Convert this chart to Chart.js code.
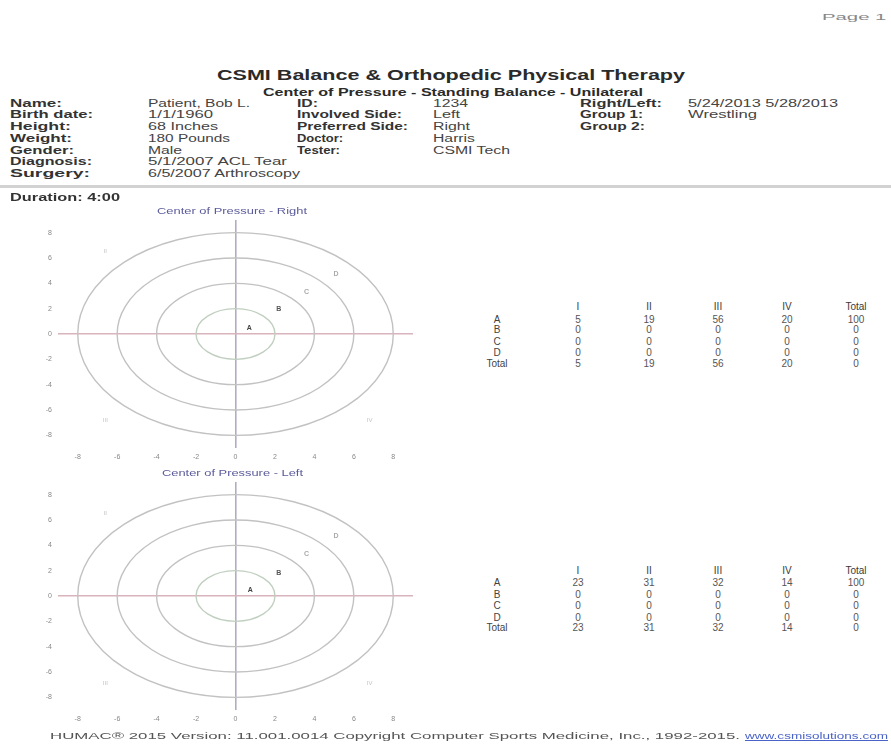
<!DOCTYPE html>
<html>
<head>
<meta charset="utf-8">
<script src="https://cdn.jsdelivr.net/npm/chart.js@4.4.1/dist/chart.umd.min.js"></script>
<style>
html, body { margin: 0; padding: 0; background: #fff; }
body { width: 891px; height: 746px; position: relative; overflow: hidden;
       font-family: "Liberation Sans", Arial, sans-serif; color: #222; }
.t { position: absolute; white-space: nowrap; line-height: 1.1; transform-origin: 0 50%; }
canvas { position: absolute; }
#sep { position: absolute; left: 0; top: 185px; width: 891px; height: 3px; background: #d2d2d2; }
</style>
</head>
<body>
<div id="sep"></div>
<canvas id="chartRight" width="430" height="270" style="left:0;top:200px"></canvas>
<canvas id="chartLeft" width="430" height="270" style="left:0;top:462px"></canvas>

<script>
// axis ticks and target rings (data units)
const tickValues = [-8, -6, -4, -2, 0, 2, 4, 6, 8];
const ringRadii = [2, 4, 6, 8];

// zone / quadrant markers
const zoneNames = ['A', 'B', 'C', 'D'];
const rightZoneX = [0.7, 2.2, 3.6, 5.1];
const rightZoneY = [0.5, 1.95, 3.35, 4.7];
const leftZoneX = [0.75, 2.2, 3.6, 5.1];
const leftZoneY = [0.45, 1.85, 3.35, 4.7];
const quadrantNames = ['II', 'III', 'IV'];
const rightQuadX = [-6.6, -6.6, 6.8];
const rightQuadY = [6.5, -6.8, -6.8];
const leftQuadX = [-6.6, -6.6, 6.8];
const leftQuadY = [6.5, -6.9, -6.9];

// zone x quadrant tables
const tableCols = ['I', 'II', 'III', 'IV', 'Total'];
const tableRows = ['A', 'B', 'C', 'D', 'Total'];
const rightCounts = [
    [5, 19, 56, 20, 100],
    [0, 0, 0, 0, 0],
    [0, 0, 0, 0, 0],
    [0, 0, 0, 0, 0],
    [5, 19, 56, 20, 0]
];
const leftCounts = [
    [23, 31, 32, 14, 100],
    [0, 0, 0, 0, 0],
    [0, 0, 0, 0, 0],
    [0, 0, 0, 0, 0],
    [23, 31, 32, 14, 0]
];

// patient header
const infoLabels1 = ['Name:', 'Birth date:', 'Height:', 'Weight:', 'Gender:', 'Diagnosis:', 'Surgery:'];
const infoValues1 = ['Patient, Bob L.', '1/1/1960', '68 Inches', '180 Pounds', 'Male', '5/1/2007 ACL Tear', '6/5/2007 Arthroscopy'];
const infoLabels2 = ['ID:', 'Involved Side:', 'Preferred Side:', 'Doctor:', 'Tester:'];
const infoValues2 = ['1234', 'Left', 'Right', 'Harris', 'CSMI Tech'];
const infoLabels3 = ['Right/Left:', 'Group 1:', 'Group 2:'];
const infoValues3 = ['5/24/2013 5/28/2013', 'Wrestling'];

function put(txt, x, cy, o) {
    o = o || {};
    const d = document.createElement('div');
    d.className = 't';
    d.textContent = txt;
    d.style.fontSize = (o.size || 10) + 'px';
    if (o.bold) d.style.fontWeight = 'bold';
    d.style.color = o.color || '#2a2a2a';
    if (o.underline) d.style.textDecoration = 'underline';
    document.body.appendChild(d);
    const nat = d.getBoundingClientRect().width;
    const s = o.w ? o.w / nat : 1;
    const left = o.center ? x - nat * s / 2 : x;
    d.style.left = left + 'px';
    d.style.top = (cy - d.offsetHeight / 2) + 'px';
    d.style.transform = 'scaleX(' + s + ')';
}

// header text
put('Page 1 of 1', 822, 18, { size: 9, color: '#888', w: 104 });
put('CSMI Balance & Orthopedic Physical Therapy', 217, 75, { size: 14, bold: true, w: 468 });
put('Center of Pressure - Standing Balance - Unilateral', 263, 92, { size: 11, bold: true, w: 380 });

const rowY = [103, 114.5, 126, 138, 150, 161.5, 173];
const w1 = [52, 83, 61, 62, 64, 82, 80];
const wv1 = [102, 65, 70, 82, 34, 139, 152];
infoLabels1.forEach((t, i) => put(t, 10, rowY[i], { bold: true, w: w1[i], color: '#333' }));
infoValues1.forEach((t, i) => put(t, 148, rowY[i], { w: wv1[i], color: '#444' }));
const w2 = [21, 105, 111, 46, 43];
const wv2 = [35, 27, 37, 42, 77];
infoLabels2.forEach((t, i) => put(t, 297, rowY[i], { bold: true, w: w2[i], color: '#333' }));
infoValues2.forEach((t, i) => put(t, 433, rowY[i], { w: wv2[i], color: '#444' }));
const w3 = [82, 63, 65];
const wv3 = [150, 69];
infoLabels3.forEach((t, i) => put(t, 580, rowY[i], { bold: true, w: w3[i], color: '#333' }));
infoValues3.forEach((t, i) => put(t, 688, rowY[i], { w: wv3[i], color: '#444' }));

put('Duration: 4:00', 10, 197, { bold: true, w: 110, color: '#333' });
put('Center of Pressure - Right', 232, 212, { size: 9, color: '#5b5b9b', w: 150, center: true });
put('Center of Pressure - Left', 232, 474, { size: 9, color: '#5b5b9b', w: 141, center: true });

put('HUMAC\u00ae 2015 Version: 11.001.0014 Copyright Computer Sports Medicine, Inc., 1992-2015.', 50, 737, { size: 9, color: '#555', w: 690 });
put('www.csmisolutions.com', 745, 737, { size: 9, color: '#4a63c8', w: 143, underline: true });

// tables
const colX = [578, 649, 718, 787, 856];
function drawTable(counts, ys) {
    tableCols.forEach((c, j) => put(c, colX[j], ys[0], { size: 10, color: '#3a3a3a', center: true }));
    tableRows.forEach((r, i) => {
        put(r, 497, ys[i + 1], { size: 10, color: '#444', center: true });
        counts[i].forEach((v, j) => put(String(v), colX[j], ys[i + 1], { size: 10, color: '#555', center: true }));
    });
}
drawTable(rightCounts, [306, 319, 329.5, 341, 352, 363]);
drawTable(leftCounts, [570, 582.5, 594, 605.5, 617, 627.5]);

// chart plugins
const ringsPlugin = {
    id: 'rings',
    beforeDatasetsDraw(chart) {
        const { ctx, scales: { x, y } } = chart;
        const cx = x.getPixelForValue(0);
        const cy = y.getPixelForValue(0);
        ctx.save();
        ringRadii.forEach((r, i) => {
            const rx = x.getPixelForValue(r) - cx;
            const ry = cy - y.getPixelForValue(r);
            ctx.beginPath();
            ctx.ellipse(cx, cy, rx, ry, 0, 0, Math.PI * 2);
            ctx.strokeStyle = i === 0 ? '#c0cfc0' : '#c2c2c2';
            ctx.lineWidth = 1.4;
            ctx.stroke();
        });
        ctx.restore();
    }
};

const textMarks = {
    id: 'textMarks',
    afterDatasetsDraw(chart) {
        const ctx = chart.ctx;
        ctx.save();
        ctx.textAlign = 'center';
        ctx.textBaseline = 'middle';
        chart.data.datasets.forEach((ds, di) => {
            const meta = chart.getDatasetMeta(di);
            ctx.font = (ds.bold ? 'bold ' : '') + ds.fontSize + 'px "Liberation Sans", Arial, sans-serif';
            meta.data.forEach((pt, i) => {
                ctx.fillStyle = ds.textColors[i];
                ctx.fillText(ds.texts[i], pt.x, pt.y);
            });
        });
        ctx.restore();
    }
};

function makeChart(id, zx, zy, qx, qy) {
    const ctx = document.getElementById(id).getContext('2d');
    return new Chart(ctx, {
        type: 'scatter',
        data: {
            datasets: [{
                label: 'zones',
                data: zoneNames.map((n, i) => ({ x: zx[i], y: zy[i] })),
                texts: zoneNames,
                textColors: ['#444', '#555', '#aaa', '#aaa'],
                fontSize: 7,
                bold: true,
                pointRadius: 0
            }, {
                label: 'quadrants',
                data: quadrantNames.map((n, i) => ({ x: qx[i], y: qy[i] })),
                texts: quadrantNames,
                textColors: ['#c4c4c4', '#c4c4c4', '#c4c4c4'],
                fontSize: 6,
                bold: false,
                pointRadius: 0
            }]
        },
        options: {
            responsive: false,
            animation: false,
            layout: { padding: { top: 20, right: 17, bottom: 0, left: 0 } },
            plugins: {
                legend: { display: false },
                title: { display: false },
                tooltip: { enabled: false }
            },
            scales: {
                x: {
                    type: 'linear',
                    min: -9,
                    max: 9,
                    afterBuildTicks: s => { s.ticks = tickValues.map(v => ({ value: v })); },
                    afterFit: s => { s.height = 22; },
                    border: { display: false },
                    grid: {
                        drawTicks: false,
                        lineWidth: 1.6,
                        color: c => (c.tick && c.tick.value === 0) ? '#b4abc2' : 'rgba(0,0,0,0)'
                    },
                    ticks: {
                        padding: 5,
                        maxRotation: 0,
                        color: '#888',
                        font: { size: 7, family: '"Liberation Sans", Arial, sans-serif' }
                    }
                },
                y: {
                    type: 'linear',
                    min: -9,
                    max: 9,
                    afterBuildTicks: s => { s.ticks = tickValues.map(v => ({ value: v })); },
                    afterFit: s => { s.width = 58; },
                    border: { display: false },
                    grid: {
                        drawTicks: false,
                        lineWidth: 1.6,
                        color: c => (c.tick && c.tick.value === 0) ? '#dab4bc' : 'rgba(0,0,0,0)'
                    },
                    ticks: {
                        padding: 6,
                        color: '#888',
                        font: { size: 7, family: '"Liberation Sans", Arial, sans-serif' }
                    }
                }
            }
        },
        plugins: [ringsPlugin, textMarks]
    });
}

makeChart('chartRight', rightZoneX, rightZoneY, rightQuadX, rightQuadY);
makeChart('chartLeft', leftZoneX, leftZoneY, leftQuadX, leftQuadY);
</script>
</body>
</html>
